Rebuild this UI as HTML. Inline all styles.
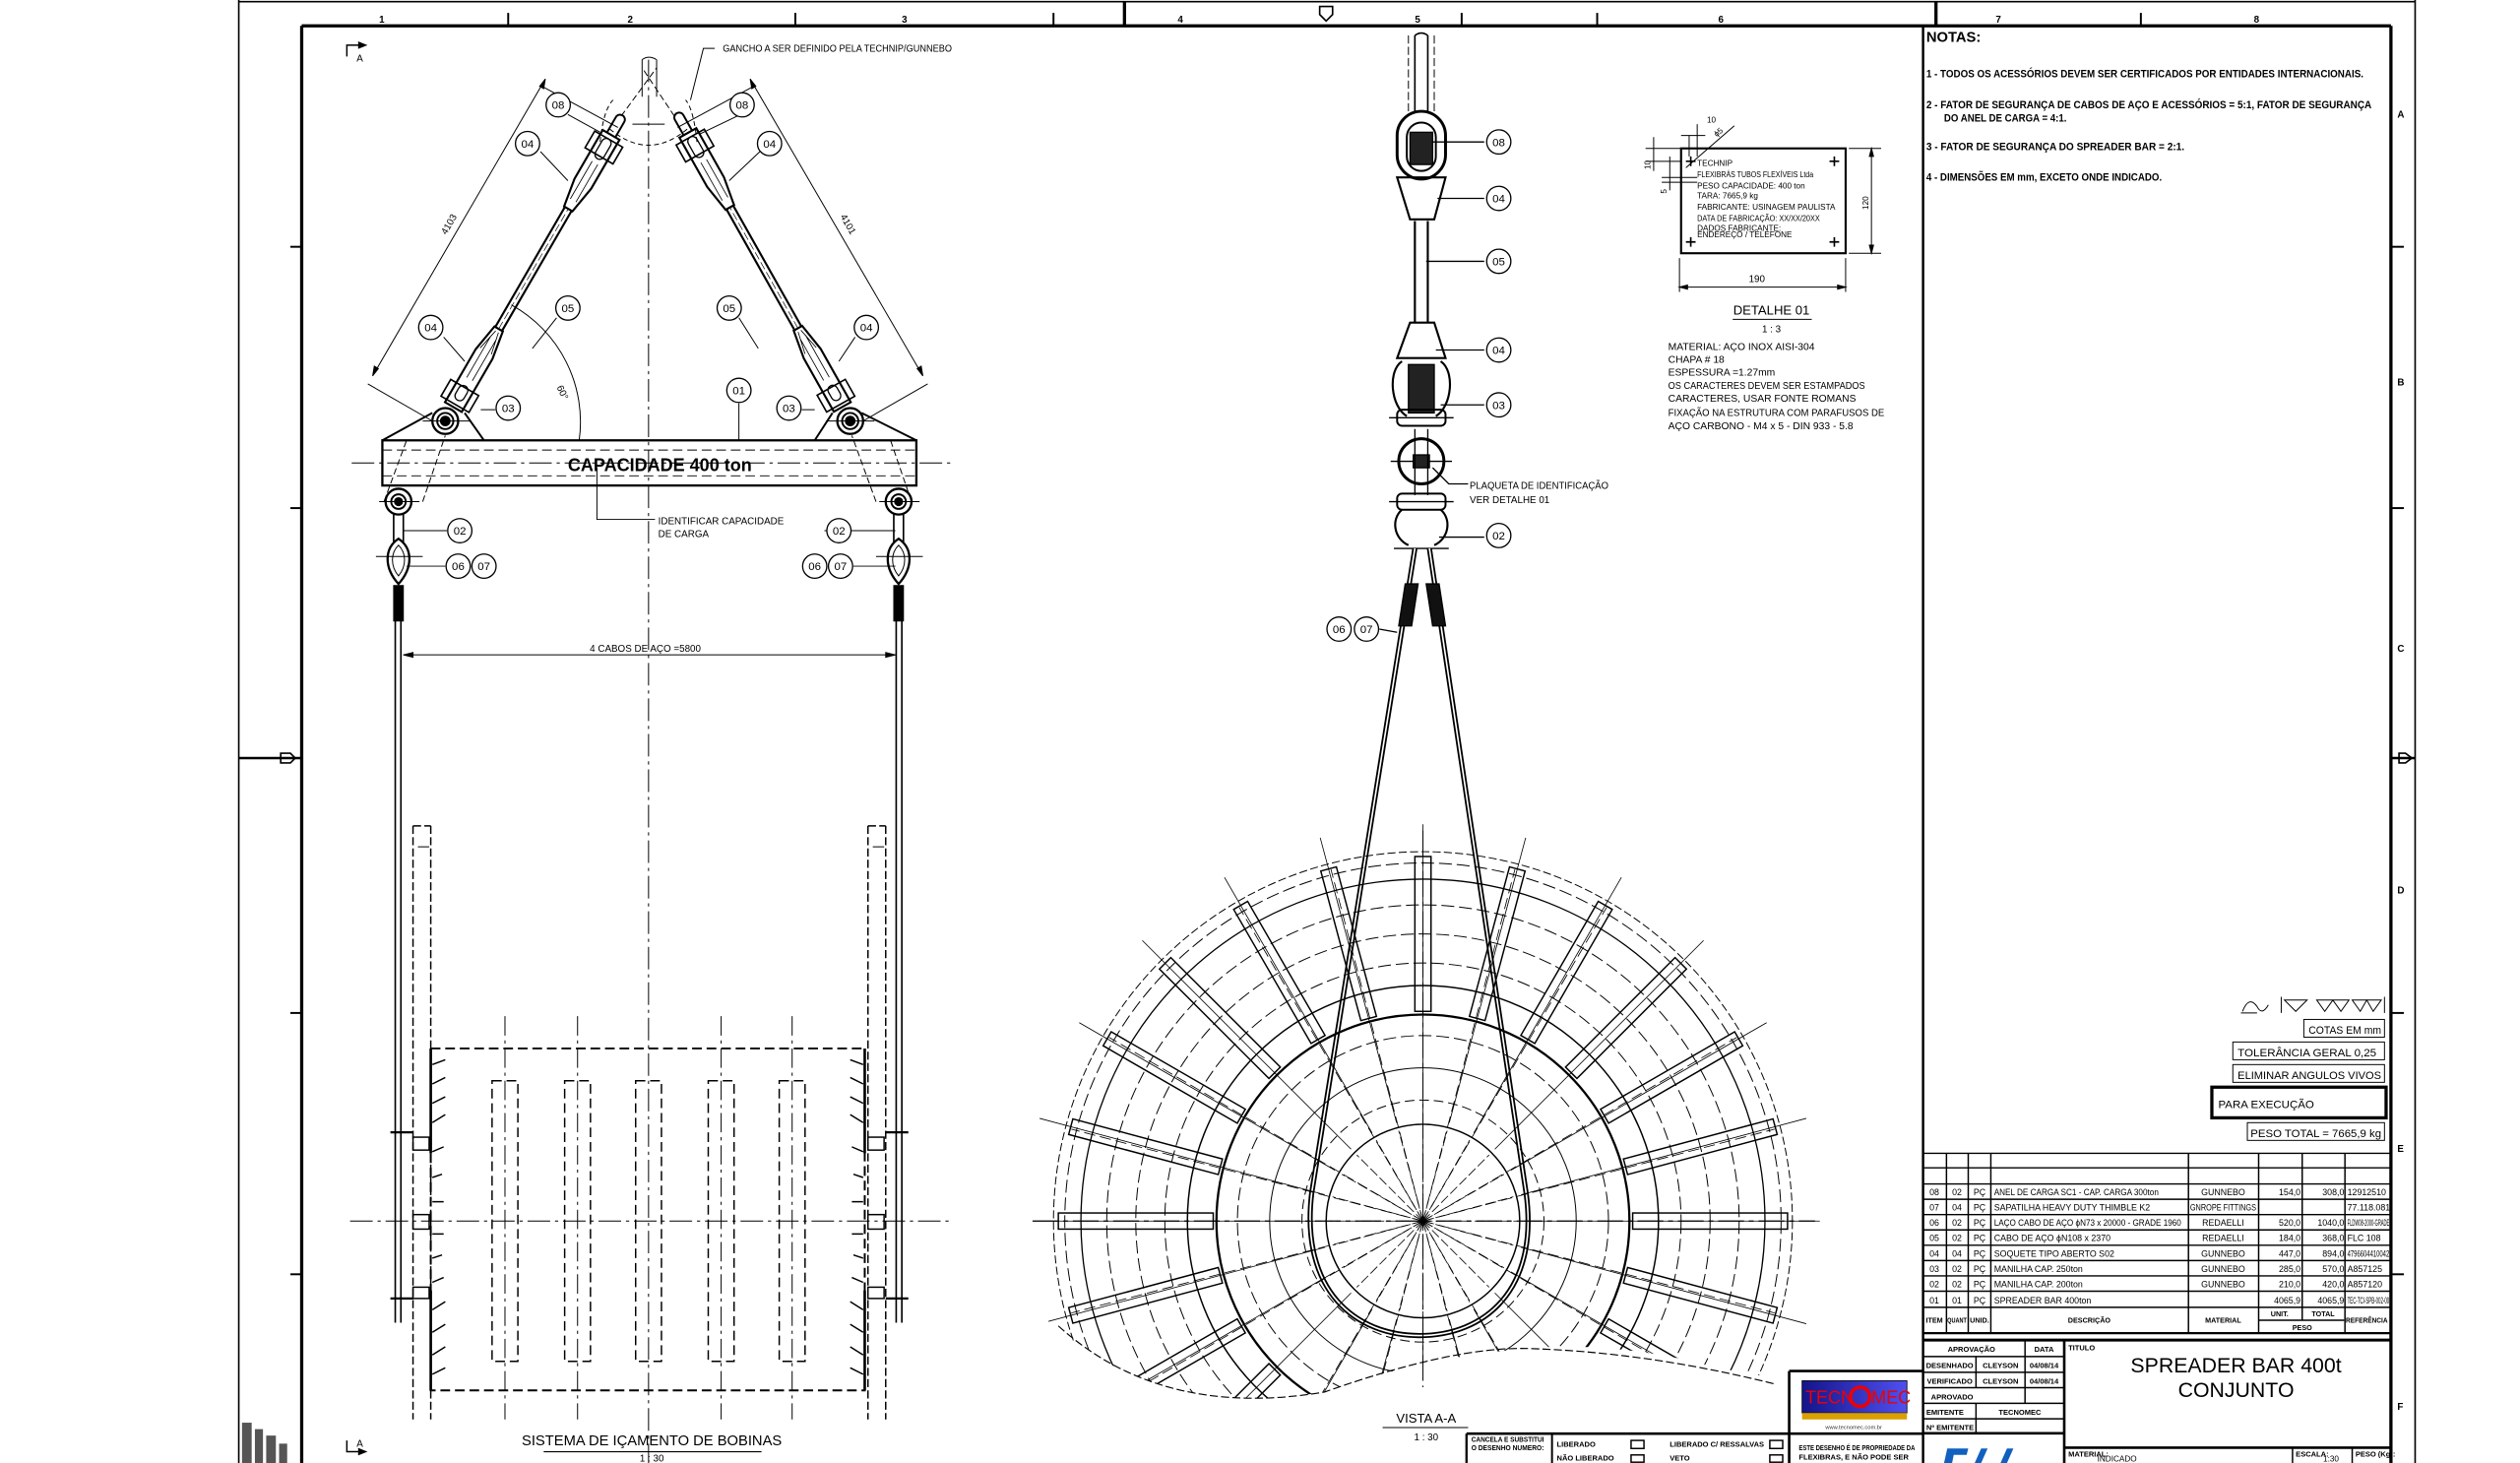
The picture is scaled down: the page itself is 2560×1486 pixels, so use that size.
<!DOCTYPE html>
<html><head><meta charset="utf-8"><style>
html,body{margin:0;padding:0;background:#fff;width:2560px;height:1486px;overflow:hidden;}
svg{display:block;}
text{font-family:"Liberation Sans Narrow","Liberation Sans",sans-serif;fill:#000;}
.b{font-weight:bold;}
</style></head><body>
<svg width="2560" height="1486" viewBox="0 0 1562 907" preserveAspectRatio="none" xmlns="http://www.w3.org/2000/svg" overflow="hidden">
<defs>
<clipPath id="reelclip"><path d="M600,480 L1160,480 L1160,858 Q1100,858 1040,842 Q990,832 946,836 Q880,842 821,863 Q720,880 650,820 Z"/></clipPath>
</defs>
<rect width="1562" height="907" fill="#fff"/>
<g stroke="#000" fill="none">
<line x1="148" y1="0" x2="148" y2="907" stroke-width="1"/>
<line x1="1497" y1="0" x2="1497" y2="907" stroke-width="1"/>
<line x1="148" y1="1" x2="1497" y2="1" stroke-width="1"/>
<line x1="187" y1="16" x2="1482" y2="16" stroke-width="2"/>
<line x1="187" y1="16" x2="187" y2="907" stroke-width="2"/>
<line x1="1482" y1="16" x2="1482" y2="907" stroke-width="2"/>
<g stroke-width="1.2">
<line x1="315" y1="8" x2="315" y2="16"/><line x1="493" y1="8" x2="493" y2="16"/><line x1="653" y1="8" x2="653" y2="16"/>
<line x1="697" y1="1" x2="697" y2="16" stroke-width="2"/><line x1="906" y1="8" x2="906" y2="16"/><line x1="990" y1="8" x2="990" y2="16"/>
<line x1="1200" y1="1" x2="1200" y2="16" stroke-width="2"/><line x1="1327" y1="8" x2="1327" y2="16"/>
<line x1="180" y1="153" x2="187" y2="153"/><line x1="180" y1="315" x2="187" y2="315"/><line x1="180" y1="628" x2="187" y2="628"/><line x1="180" y1="790" x2="187" y2="790"/>
<line x1="148" y1="470" x2="187" y2="470" stroke-width="1.5"/>
<line x1="1482" y1="153" x2="1490" y2="153"/><line x1="1482" y1="315" x2="1490" y2="315"/><line x1="1482" y1="628" x2="1490" y2="628"/><line x1="1482" y1="790" x2="1490" y2="790"/>
<line x1="1482" y1="470" x2="1497" y2="470" stroke-width="1.5"/>
</g>
<path d="M818,4 L826,4 L826,9 L822,13 L818,9 Z" stroke-width="1"/>
<path d="M174,467 L180,467 L183,470 L180,473 L174,473 Z" stroke-width="1"/>
<path d="M1487,467 L1491,467 L1495,470 L1491,473 L1487,473 Z" stroke-width="1"/>
</g>
<g font-size="6" class="b">
<text x="235" y="14">1</text><text x="389" y="14">2</text><text x="559" y="14">3</text><text x="730" y="14">4</text><text x="877" y="14">5</text><text x="1065" y="14">6</text><text x="1237" y="14">7</text><text x="1397" y="14">8</text>
<text x="1486" y="73">A</text><text x="1486" y="239">B</text><text x="1486" y="404">C</text><text x="1486" y="554">D</text><text x="1486" y="714">E</text><text x="1486" y="874">F</text>
</g>
<g fill="#555"><rect x="150" y="882" width="6" height="25"/><rect x="158" y="886" width="5" height="21"/><rect x="165" y="890" width="6" height="17"/><rect x="173" y="895" width="5" height="12"/></g>

<g stroke="#000" fill="none" stroke-width="0.6">
<line x1="402" y1="37" x2="402" y2="907" stroke-dasharray="14,3,2,3"/>
<line x1="218" y1="287" x2="590" y2="287" stroke-dasharray="14,3,2,3"/>
<line x1="217" y1="757" x2="590" y2="757" stroke-dasharray="14,3,2,3"/>
<path d="M398,37 L398,60 M407,37 L407,60 M398,37 Q402,34 407,37" />
<path d="M385,72 L407,42 M418,72 L398,42" stroke-dasharray="4,2"/>
<path d="M372,88 Q374,68 380,62 M432,88 Q430,68 425,62" stroke-dasharray="3,2"/>
<path d="M378,80 Q402,100 426,80" stroke-dasharray="3,2"/>
<line x1="392" y1="77" x2="412" y2="77"/>
<rect x="237" y="273" width="331" height="28" stroke-width="1.4"/>
<line x1="237" y1="279" x2="568" y2="279" stroke-dasharray="6,3"/>
<line x1="237" y1="295" x2="568" y2="295" stroke-dasharray="6,3"/>
<path d="M237,273 L268,256 M288,256 L300,273 M568,273 L534,256 M516,256 L505,273" stroke-width="1.2"/>
<circle cx="276" cy="261" r="8" stroke-width="1.4"/><circle cx="276" cy="261" r="5" stroke-width="1.2"/><circle cx="276" cy="261" r="3" fill="#000"/>
<circle cx="527" cy="261" r="8" stroke-width="1.4"/><circle cx="527" cy="261" r="5" stroke-width="1.2"/><circle cx="527" cy="261" r="3" fill="#000"/>
<line x1="262" y1="261" x2="292" y2="261"/><line x1="512" y1="261" x2="542" y2="261"/>
<circle cx="247" cy="311" r="8" stroke-width="1.4"/><circle cx="247" cy="311" r="4.5" stroke-width="1.2"/><circle cx="247" cy="311" r="2.5" fill="#000"/>
<circle cx="557" cy="311" r="8" stroke-width="1.4"/><circle cx="557" cy="311" r="4.5" stroke-width="1.2"/><circle cx="557" cy="311" r="2.5" fill="#000"/>
<line x1="235" y1="311" x2="260" y2="311"/><line x1="545" y1="311" x2="570" y2="311"/>
<path d="M238,311 L252,273 M262,311 L276,270 M565,311 L552,273 M543,311 L528,270" stroke-dasharray="4,2"/>
<path d="M244,319 L244,336 M250,319 L250,336 M554,319 L554,336 M560,319 L560,336" stroke-width="1"/>
<path d="M247,334 C238,340 238,352 247,362 C256,352 256,340 247,334 Z" stroke-width="1.4"/>
<path d="M247,338 C242,343 242,351 247,357 C252,351 252,343 247,338 Z"/>
<path d="M557,334 C548,340 548,352 557,362 C566,352 566,340 557,334 Z" stroke-width="1.4"/>
<path d="M557,338 C552,343 552,351 557,357 C562,351 562,343 557,338 Z"/>
<line x1="233" y1="345" x2="262" y2="345"/><line x1="543" y1="345" x2="572" y2="345"/>
<rect x="244" y="363" width="6" height="22" fill="#000"/>
<rect x="554" y="363" width="6" height="22" fill="#000"/>
<path d="M245,385 L245,820 M248.5,385 L248.5,820" stroke-width="1"/>
<path d="M555.5,385 L555.5,820 M559,385 L559,820" stroke-width="1"/>
<line x1="250" y1="406" x2="555" y2="406"/>
<path d="M250,406 l6,-1.5 l0,3 Z M555,406 l-6,-1.5 l0,3 Z" fill="#000"/>
<path d="M370,290 L370,322 L406,322"/>
<path d="M256,512 L256,880 M267,512 L267,880 M256,512 L267,512" stroke-dasharray="5,2" stroke-width="0.9"/>
<path d="M538,512 L538,880 M549,512 L549,880 M538,512 L549,512" stroke-dasharray="5,2" stroke-width="0.9"/>
<path d="M259,525 L266,525 M541,525 L548,525" />
<rect x="267" y="650" width="269" height="212" stroke-dasharray="6,3" stroke-width="1.2"/>
<line x1="267" y1="650" x2="267" y2="715" stroke-width="1.6"/><line x1="267" y1="800" x2="267" y2="862" stroke-width="1.6"/>
<line x1="536" y1="650" x2="536" y2="715" stroke-width="1.6"/><line x1="536" y1="800" x2="536" y2="862" stroke-width="1.6"/>
<g stroke-dasharray="6,3" stroke-width="0.9">
<rect x="305" y="670" width="16" height="174"/><rect x="350" y="670" width="16" height="174"/><rect x="394" y="670" width="16" height="174"/><rect x="439" y="670" width="16" height="174"/><rect x="483" y="670" width="16" height="174"/>
</g>
<g stroke-dasharray="12,3,2,3">
<line x1="313" y1="630" x2="313" y2="880"/><line x1="358" y1="630" x2="358" y2="880"/><line x1="447" y1="630" x2="447" y2="880"/><line x1="491" y1="630" x2="491" y2="880"/>
</g>
<g stroke-width="0.9">
<rect x="256" y="705" width="10" height="8"/><rect x="256" y="753" width="10" height="9"/><rect x="256" y="798" width="10" height="7"/>
<rect x="538" y="705" width="10" height="8"/><rect x="538" y="753" width="10" height="9"/><rect x="538" y="798" width="10" height="7"/>
<line x1="242" y1="702" x2="256" y2="702" stroke-width="1.4"/><line x1="242" y1="805" x2="256" y2="805" stroke-width="1.4"/>
<line x1="549" y1="702" x2="563" y2="702" stroke-width="1.4"/><line x1="549" y1="805" x2="563" y2="805" stroke-width="1.4"/>
<path d="M268,660 l8,-3 M268,672 l8,-4 M268,684 l8,-4 M268,696 l8,-5 M268,714 l7,-3 M268,730 l6,-2 M268,745 l7,0 M268,765 l7,0 M268,780 l6,-2 M268,795 l7,-3 M268,812 l8,-5 M268,826 l8,-5 M268,840 l8,-5 M268,852 l8,-4"/>
<path d="M535,660 l-8,-3 M535,672 l-8,-4 M535,684 l-8,-4 M535,696 l-8,-5 M535,714 l-7,-3 M535,730 l-6,-2 M535,745 l-7,0 M535,765 l-7,0 M535,780 l-6,-2 M535,795 l-7,-3 M535,812 l-8,-5 M535,826 l-8,-5 M535,840 l-8,-5 M535,852 l-8,-4"/>
</g>
<path d="M215,35 L215,28 L226,28" stroke-width="0.9"/><path d="M222,26 l5,2 l-5,2" fill="#000"/>
<path d="M215,893 L215,900 L226,900" stroke-width="0.9"/><path d="M222,898 l5,2 l-5,2" fill="#000"/>
</g>
<text x="221" y="38" font-size="6">A</text>
<text x="221" y="897" font-size="6">A</text>

<g transform="translate(276,261) rotate(-59.9)" stroke="#000" fill="none">
<path d="M10,-6 L48,-6 L66,-3 L66,3 L48,6 L10,6 Z" stroke-width="1.3"/>
<path d="M12,-10 L24,-10 L24,10 L12,10 Z" stroke-width="1"/>
<path d="M30,-2 L60,-2 M30,2 L60,2 M50,-4 L64,-1 M50,4 L64,1" stroke-width="0.5"/>
<rect x="15" y="-3" width="10" height="6" rx="3" stroke-width="0.8"/>
<path d="M66,-2.4 L152,-2.4 M66,2.4 L152,2.4" stroke-width="1.3"/>
<line x1="66" y1="0" x2="152" y2="0" stroke-width="0.4" stroke-dasharray="5,2"/>
<path d="M152,-3 L170,-6 L205,-6 L205,6 L170,6 L152,3 Z" stroke-width="1.3"/>
<path d="M190,-10 L202,-10 L202,10 L190,10 Z" stroke-width="1"/>
<path d="M158,-2 L185,-2 M158,2 L185,2" stroke-width="0.5"/>
<rect x="188" y="-3" width="14" height="6" rx="3" stroke-width="0.8"/>
<path d="M205,-3 L216,-3 A3,3 0 0 1 216,3 L205,3" stroke-width="1.2"/>
</g>
<g transform="translate(527,261) rotate(-119.4)" stroke="#000" fill="none">
<path d="M10,-6 L48,-6 L66,-3 L66,3 L48,6 L10,6 Z" stroke-width="1.3"/>
<path d="M12,-10 L24,-10 L24,10 L12,10 Z" stroke-width="1"/>
<path d="M30,-2 L60,-2 M30,2 L60,2 M50,-4 L64,-1 M50,4 L64,1" stroke-width="0.5"/>
<rect x="15" y="-3" width="10" height="6" rx="3" stroke-width="0.8"/>
<path d="M66,-2.4 L152,-2.4 M66,2.4 L152,2.4" stroke-width="1.3"/>
<line x1="66" y1="0" x2="152" y2="0" stroke-width="0.4" stroke-dasharray="5,2"/>
<path d="M152,-3 L170,-6 L205,-6 L205,6 L170,6 L152,3 Z" stroke-width="1.3"/>
<path d="M190,-10 L202,-10 L202,10 L190,10 Z" stroke-width="1"/>
<path d="M158,-2 L185,-2 M158,2 L185,2" stroke-width="0.5"/>
<rect x="188" y="-3" width="14" height="6" rx="3" stroke-width="0.8"/>
<path d="M205,-3 L216,-3 A3,3 0 0 1 216,3 L205,3" stroke-width="1.2"/>
</g>
<g stroke="#000" fill="none" stroke-width="0.6">
<line x1="231" y1="233" x2="338" y2="49"/><line x1="572" y1="233" x2="465" y2="49"/>
<line x1="228" y1="238" x2="268" y2="261"/><line x1="335" y1="53" x2="383" y2="79"/>
<line x1="575" y1="238" x2="535" y2="261"/><line x1="468" y1="53" x2="420" y2="79"/>
<path d="M231,233 l1,-6 l2.5,1.5 Z M338,49 l-1,6 l-2.5,-1.5 Z M572,233 l-1,-6 l-2.5,1.5 Z M465,49 l1,6 l2.5,-1.5 Z" fill="#000"/>
<path d="M359,273 A83,83 0 0 0 317,189"/>
<path d="M443,30 L436,30 L428,62"/>
<path d="M352,71 L372,82 M335,94 L352,112 M345,197 L330,216 M275,209 L288,224 M307,254 L298,254 M458,250 L458,273 M497,254 L505,254 M459,71 L434,83 M471,94 L452,112 M458,197 L470,216 M530,209 L520,224 M277,329 L250,329 M511,329 L555,329 M276,351 L252,351 M529,351 L555,351"/>
</g>
<g stroke="#000" fill="#fff" stroke-width="0.8">
<circle cx="346" cy="65" r="7.5"/><circle cx="460" cy="65" r="7.5"/>
<circle cx="327" cy="89" r="7.5"/><circle cx="477" cy="89" r="7.5"/>
<circle cx="352" cy="191" r="7.5"/><circle cx="452" cy="191" r="7.5"/>
<circle cx="267" cy="203" r="7.5"/><circle cx="537" cy="203" r="7.5"/>
<circle cx="315" cy="253" r="7.5"/><circle cx="489" cy="253" r="7.5"/>
<circle cx="458" cy="242" r="7.5"/>
<circle cx="285" cy="329" r="7.5"/><circle cx="520" cy="329" r="7.5"/>
<circle cx="284" cy="351" r="7.5"/><circle cx="300" cy="351" r="7.5"/>
<circle cx="505" cy="351" r="7.5"/><circle cx="521" cy="351" r="7.5"/>
</g>
<g font-size="7" text-anchor="middle">
<text x="346" y="67.5">08</text><text x="460" y="67.5">08</text>
<text x="327" y="91.5">04</text><text x="477" y="91.5">04</text>
<text x="352" y="193.5">05</text><text x="452" y="193.5">05</text>
<text x="267" y="205.5">04</text><text x="537" y="205.5">04</text>
<text x="315" y="255.5">03</text><text x="489" y="255.5">03</text>
<text x="458" y="244.5">01</text>
<text x="285" y="331.5">02</text><text x="520" y="331.5">02</text>
<text x="284" y="353.5">06</text><text x="300" y="353.5">07</text>
<text x="505" y="353.5">06</text><text x="521" y="353.5">07</text>
</g>
<text x="448" y="32" font-size="6" textLength="142" lengthAdjust="spacingAndGlyphs">GANCHO A SER DEFINIDO PELA TECHNIP/GUNNEBO</text>
<text x="409" y="292" font-size="11" class="b" text-anchor="middle" font-family="Liberation Sans,sans-serif">CAPACIDADE 400 ton</text>
<text x="408" y="325" font-size="6">IDENTIFICAR CAPACIDADE</text>
<text x="408" y="333" font-size="6">DE CARGA</text>
<text x="400" y="404" font-size="6" text-anchor="middle">4  CABOS DE AÇO =5800</text>
<text transform="translate(280,140) rotate(-60)" font-size="6" text-anchor="middle">4103</text>
<text transform="translate(524,140) rotate(60)" font-size="6" text-anchor="middle">4101</text>
<text transform="translate(345,240) rotate(65)" font-size="6">60°</text>
<text x="404" y="896" font-size="9" text-anchor="middle">SISTEMA DE IÇAMENTO DE BOBINAS</text>
<line x1="337" y1="900" x2="472" y2="900" stroke="#000" stroke-width="0.7"/>
<text x="404" y="906" font-size="6" text-anchor="middle">1 : 30</text>

<g stroke="#000" fill="none" stroke-width="0.8">
<path d="M877,22 L877,69 M885,22 L885,69 M877,22 Q881,19 885,22" stroke-width="1"/>
<path d="M873,22 L873,69 M889,22 L889,69" stroke-dasharray="5,2" stroke-width="0.6"/>
<rect x="866" y="69" width="30" height="42" rx="15" stroke-width="1.8"/>
<rect x="872" y="76" width="18" height="30" rx="9" stroke-width="1.2"/>
<rect x="874" y="82" width="14" height="20" fill="#222"/>
<path d="M866,110 L896,110 L889,136 L874,136 Z" stroke-width="1.3"/>
<path d="M877,137 L877,200 M885,137 L885,200" stroke-width="1.3"/>
<path d="M874,200 L889,200 L896,222 L866,222 Z" stroke-width="1.3"/>
<path d="M869,224 C860,230 862,252 872,258 M893,224 C902,230 900,252 890,258" stroke-width="1.3"/>
<rect x="873" y="226" width="16" height="30" fill="#222"/>
<line x1="861" y1="259" x2="901" y2="259"/>
<rect x="866" y="254" width="30" height="10" rx="3" stroke-width="1.2"/>
<circle cx="881" cy="286" r="14" stroke-width="1.8"/>
<line x1="862" y1="286" x2="900" y2="286"/>
<rect x="876" y="282" width="10" height="8" fill="#222"/>
<path d="M877,266 L877,307 M885,266 L885,307"/>
<rect x="866" y="306" width="30" height="10" rx="3" stroke-width="1.2"/>
<line x1="861" y1="311" x2="901" y2="311"/>
<path d="M869,316 C862,322 864,334 873,338 M893,316 C900,322 898,334 889,338" stroke-width="1.3"/>
<line x1="864" y1="340" x2="898" y2="340"/>
<path d="M877,340 L813,740 C806,800 840,828 880,828 C920,828 954,800 946,740 L886,340" stroke-width="3.2"/>
<path d="M877,340 L813,740 C806,800 840,828 880,828 C920,828 954,800 946,740 L886,340" stroke="#fff" stroke-width="1"/>
<path d="M871,362 L879,362 L875,388 L867,388 Z M884,362 L892,362 L896,388 L888,388 Z" fill="#111"/>
<path d="M888,88 L920,88 M891,123 L920,123 M884,162 L920,162 M890,217 L920,217 M893,251 L920,251 M892,333 L920,333 M888,290 L898,300 L910,300 M855,390 L866,392"/>
</g>
<g stroke="#000" fill="#fff" stroke-width="0.8">
<circle cx="929" cy="88" r="7.5"/><circle cx="929" cy="123" r="7.5"/><circle cx="929" cy="162" r="7.5"/><circle cx="929" cy="217" r="7.5"/><circle cx="929" cy="251" r="7.5"/><circle cx="929" cy="332" r="7.5"/>
<circle cx="830" cy="390" r="7.5"/><circle cx="847" cy="390" r="7.5"/>
</g>
<g font-size="7" text-anchor="middle">
<text x="929" y="90.5">08</text><text x="929" y="125.5">04</text><text x="929" y="164.5">05</text><text x="929" y="219.5">04</text><text x="929" y="253.5">03</text><text x="929" y="334.5">02</text>
<text x="830" y="392.5">06</text><text x="847" y="392.5">07</text>
</g>
<text x="911" y="303" font-size="6" textLength="86" lengthAdjust="spacingAndGlyphs">PLAQUETA DE IDENTIFICAÇÃO</text>
<text x="911" y="312" font-size="6">VER DETALHE 01</text>

<g clip-path="url(#reelclip)" stroke="#000" fill="none" stroke-width="0.6">
<circle cx="882" cy="757" r="229" stroke-dasharray="5,2"/>
<circle cx="882" cy="757" r="222" stroke-dasharray="8,3"/>
<circle cx="882" cy="757" r="212" stroke-width="0.8"/>
<circle cx="882" cy="757" r="196" stroke-dasharray="8,3"/>
<circle cx="882" cy="757" r="178" stroke-dasharray="8,3"/>
<circle cx="882" cy="757" r="160" stroke-dasharray="8,3"/>
<circle cx="882" cy="757" r="146" stroke-width="0.9"/>
<circle cx="882" cy="757" r="128" stroke-width="1.4"/>
<circle cx="882" cy="757" r="115" stroke-dasharray="8,3"/>
<circle cx="882" cy="757" r="95"/>
<circle cx="882" cy="757" r="75" stroke-dasharray="6,3"/>
<circle cx="882" cy="757" r="60" stroke-width="0.9"/>
<g id="spk">
<rect x="1012" y="752" width="96" height="10" stroke-width="0.9"/>
<line x1="945" y1="757" x2="1128" y2="757" stroke-width="0.5"/>
<line x1="882" y1="757" x2="940" y2="757" stroke-dasharray="6,2" stroke-width="0.5"/>
</g>
<use href="#spk" transform="rotate(15 882 757)"/><use href="#spk" transform="rotate(30 882 757)"/><use href="#spk" transform="rotate(45 882 757)"/><use href="#spk" transform="rotate(60 882 757)"/><use href="#spk" transform="rotate(75 882 757)"/><use href="#spk" transform="rotate(90 882 757)"/><use href="#spk" transform="rotate(105 882 757)"/><use href="#spk" transform="rotate(120 882 757)"/><use href="#spk" transform="rotate(135 882 757)"/><use href="#spk" transform="rotate(150 882 757)"/><use href="#spk" transform="rotate(165 882 757)"/><use href="#spk" transform="rotate(180 882 757)"/><use href="#spk" transform="rotate(195 882 757)"/><use href="#spk" transform="rotate(210 882 757)"/><use href="#spk" transform="rotate(225 882 757)"/><use href="#spk" transform="rotate(240 882 757)"/><use href="#spk" transform="rotate(255 882 757)"/><use href="#spk" transform="rotate(270 882 757)"/><use href="#spk" transform="rotate(285 882 757)"/><use href="#spk" transform="rotate(300 882 757)"/><use href="#spk" transform="rotate(315 882 757)"/><use href="#spk" transform="rotate(330 882 757)"/><use href="#spk" transform="rotate(345 882 757)"/>
<g id="spk2" stroke-dasharray="7,3" stroke-width="0.5"><line x1="882" y1="757" x2="1100" y2="700"/><line x1="882" y1="757" x2="1100" y2="814"/></g>
<use href="#spk2" transform="rotate(45 882 757)"/><use href="#spk2" transform="rotate(90 882 757)"/><use href="#spk2" transform="rotate(135 882 757)"/><use href="#spk2" transform="rotate(180 882 757)"/><use href="#spk2" transform="rotate(225 882 757)"/><use href="#spk2" transform="rotate(270 882 757)"/><use href="#spk2" transform="rotate(315 882 757)"/>
</g>
<path d="M656,822 Q720,880 821,863 Q900,835 946,836 Q1020,838 1100,858" stroke="#000" fill="none" stroke-width="0.7" stroke-dasharray="5,2"/>
<line x1="640" y1="757" x2="1125" y2="757" stroke="#000" stroke-width="0.8" stroke-dasharray="16,3,3,3"/>
<line x1="882" y1="515" x2="882" y2="860" stroke="#000" stroke-width="0.6" stroke-dasharray="16,3,3,3"/>
<text x="884" y="882" font-size="8" text-anchor="middle">VISTA A-A</text>
<line x1="857" y1="885" x2="910" y2="885" stroke="#000" stroke-width="0.6"/>
<text x="884" y="893" font-size="6" text-anchor="middle">1 : 30</text>

<g stroke="#000" fill="none" stroke-width="0.6">
<rect x="1042" y="92" width="102" height="65" stroke-width="1.3"/>
<line x1="1041" y1="178" x2="1144" y2="178"/><path d="M1041,178 l5,-1.3 l0,2.6 Z M1144,178 l-5,-1.3 l0,2.6 Z" fill="#000"/>
<line x1="1041" y1="160" x2="1041" y2="181"/><line x1="1144" y1="160" x2="1144" y2="181"/>
<line x1="1160" y1="92" x2="1160" y2="157"/><path d="M1160,92 l-1.3,5 l2.6,0 Z M1160,157 l-1.3,-5 l2.6,0 Z" fill="#000"/>
<line x1="1146" y1="92" x2="1166" y2="92"/><line x1="1146" y1="157" x2="1166" y2="157"/>
<line x1="1047" y1="84" x2="1047" y2="97"/><line x1="1052" y1="77" x2="1052" y2="97"/><line x1="1042" y1="84" x2="1057" y2="84"/>
<line x1="1045" y1="104" x2="1075" y2="78"/>
<line x1="1020" y1="92" x2="1042" y2="92"/><line x1="1020" y1="100" x2="1042" y2="100"/><line x1="1030" y1="110" x2="1052" y2="110"/><line x1="1030" y1="113" x2="1052" y2="113"/>
<line x1="1025" y1="85" x2="1025" y2="106"/><line x1="1035" y1="97" x2="1035" y2="118"/>
<path d="M1048,97 l0,6 M1045,100 l6,0 M1137,97 l0,6 M1134,100 l6,0 M1048,147 l0,6 M1045,150 l6,0 M1137,147 l0,6 M1134,150 l6,0" stroke-width="1"/>
</g>
<g font-size="5">
<text x="1052" y="103">TECHNIP</text>
<text x="1052" y="110" textLength="72" lengthAdjust="spacingAndGlyphs">FLEXIBRÁS TUBOS FLEXÍVEIS Ltda</text>
<text x="1052" y="117">PESO CAPACIDADE: 400 ton</text>
<text x="1052" y="123">TARA: 7665,9 kg</text>
<text x="1052" y="130">FABRICANTE: USINAGEM PAULISTA</text>
<text x="1052" y="137" textLength="76" lengthAdjust="spacingAndGlyphs">DATA DE FABRICAÇÃO: XX/XX/20XX</text>
<text x="1052" y="143">DADOS FABRICANTE:</text>
<text x="1052" y="147">ENDEREÇO / TELEFONE</text>
<text x="1058" y="76">10</text><text transform="translate(1064,85) rotate(-40)">ϕ5</text>
<text transform="translate(1023,105) rotate(-90)">10</text><text transform="translate(1033,120) rotate(-90)">5</text>
<text transform="translate(1158,130) rotate(-90)">120</text>
<text x="1089" y="175" font-size="6" text-anchor="middle">190</text>
</g>
<text x="1098" y="195" font-size="8" text-anchor="middle">DETALHE 01</text>
<line x1="1074" y1="198" x2="1123" y2="198" stroke="#000" stroke-width="0.6"/>
<text x="1098" y="206" font-size="6" text-anchor="middle">1 : 3</text>
<g font-size="6.3">
<text x="1034" y="217">MATERIAL: AÇO INOX AISI-304</text>
<text x="1034" y="225">CHAPA # 18</text>
<text x="1034" y="233">ESPESSURA =1.27mm</text>
<text x="1034" y="241" textLength="122" lengthAdjust="spacingAndGlyphs">OS CARACTERES DEVEM SER ESTAMPADOS</text>
<text x="1034" y="249">CARACTERES, USAR FONTE ROMANS</text>
<text x="1034" y="258" textLength="134" lengthAdjust="spacingAndGlyphs">FIXAÇÃO NA ESTRUTURA COM PARAFUSOS DE</text>
<text x="1034" y="266">AÇO CARBONO - M4 x 5 - DIN 933 - 5.8</text>
</g>

<line x1="1192" y1="16" x2="1192" y2="907" stroke="#000" stroke-width="1.5"/>
<text x="1194" y="26" font-size="9" class="b">NOTAS:</text>
<g font-size="6.6" class="b">
<text x="1194" y="48" textLength="271" lengthAdjust="spacingAndGlyphs">1 - TODOS OS ACESSÓRIOS DEVEM SER CERTIFICADOS POR ENTIDADES INTERNACIONAIS.</text>
<text x="1194" y="67" textLength="276" lengthAdjust="spacingAndGlyphs">2 - FATOR DE SEGURANÇA DE CABOS DE AÇO E ACESSÓRIOS = 5:1, FATOR DE SEGURANÇA</text>
<text x="1205" y="75.5" textLength="76" lengthAdjust="spacingAndGlyphs">DO ANEL DE CARGA = 4:1.</text>
<text x="1194" y="93" textLength="160" lengthAdjust="spacingAndGlyphs">3 - FATOR DE SEGURANÇA DO SPREADER BAR = 2:1.</text>
<text x="1194" y="112" textLength="146" lengthAdjust="spacingAndGlyphs">4 - DIMENSÕES EM mm, EXCETO ONDE INDICADO.</text>
</g>

<g stroke="#000" fill="none" stroke-width="0.6">
<path d="M1389,628 L1399,628 M1390,627 Q1394,617 1399,624 Q1402,630 1406,623"/>
<path d="M1414,618 L1414,628 M1478,618 L1478,628 M1416,620 L1430,620 L1423,627 Z M1436,620 L1456,620 L1451,627 L1446,620 L1441,627 Z M1458,620 L1476,620 L1471,627 L1467,620 L1463,627 Z"/>
<rect x="1428" y="632" width="50" height="11"/>
<rect x="1384" y="646" width="94" height="11"/>
<rect x="1384" y="660" width="94" height="11"/>
<rect x="1371" y="674" width="108" height="19" stroke-width="2"/>
<rect x="1393" y="696" width="85" height="11"/>
</g>
<g font-size="7">
<text x="1431" y="641" textLength="45" lengthAdjust="spacingAndGlyphs">COTAS EM mm</text>
<text x="1387" y="655" textLength="86" lengthAdjust="spacingAndGlyphs">TOLERÂNCIA GERAL   0,25</text>
<text x="1387" y="669" textLength="89" lengthAdjust="spacingAndGlyphs">ELIMINAR ANGULOS VIVOS</text>
<text x="1375" y="687">PARA EXECUÇÃO</text>
<text x="1395" y="705" textLength="81" lengthAdjust="spacingAndGlyphs">PESO TOTAL = 7665,9 kg</text>
</g>

<g stroke="#000" fill="none" stroke-width="0.9">
<line x1="1192" y1="715" x2="1482" y2="715"/>
<line x1="1192" y1="724" x2="1482" y2="724"/>
<line x1="1192" y1="734" x2="1482" y2="734"/>
<line x1="1192" y1="743.5" x2="1482" y2="743.5"/>
<line x1="1192" y1="753" x2="1482" y2="753"/>
<line x1="1192" y1="762.5" x2="1482" y2="762.5"/>
<line x1="1192" y1="772" x2="1482" y2="772"/>
<line x1="1192" y1="781.5" x2="1482" y2="781.5"/>
<line x1="1192" y1="791" x2="1482" y2="791"/>
<line x1="1192" y1="800.5" x2="1482" y2="800.5"/>
<line x1="1192" y1="810.5" x2="1482" y2="810.5"/>
<line x1="1400" y1="818.5" x2="1453" y2="818.5"/>
<line x1="1192" y1="826.5" x2="1482" y2="826.5" stroke-width="1.4"/>
<line x1="1206.5" y1="715" x2="1206.5" y2="826.5"/><line x1="1220" y1="715" x2="1220" y2="826.5"/><line x1="1234" y1="715" x2="1234" y2="826.5"/>
<line x1="1356.5" y1="715" x2="1356.5" y2="826.5"/><line x1="1400" y1="715" x2="1400" y2="826.5"/><line x1="1427" y1="715" x2="1427" y2="818.5"/><line x1="1453.5" y1="715" x2="1453.5" y2="826.5"/>
</g>
<g font-size="5.4">
<g text-anchor="middle">
<text x="1199" y="741">08</text><text x="1213" y="741">02</text><text x="1227" y="741">PÇ</text>
<text x="1199" y="750.5">07</text><text x="1213" y="750.5">04</text><text x="1227" y="750.5">PÇ</text>
<text x="1199" y="760">06</text><text x="1213" y="760">02</text><text x="1227" y="760">PÇ</text>
<text x="1199" y="769.5">05</text><text x="1213" y="769.5">02</text><text x="1227" y="769.5">PÇ</text>
<text x="1199" y="779">04</text><text x="1213" y="779">04</text><text x="1227" y="779">PÇ</text>
<text x="1199" y="788.5">03</text><text x="1213" y="788.5">02</text><text x="1227" y="788.5">PÇ</text>
<text x="1199" y="798">02</text><text x="1213" y="798">02</text><text x="1227" y="798">PÇ</text>
<text x="1199" y="808">01</text><text x="1213" y="808">01</text><text x="1227" y="808">PÇ</text>
<text x="1378" y="741">GUNNEBO</text><text x="1378" y="750.5" textLength="41" lengthAdjust="spacingAndGlyphs">GNROPE FITTINGS</text><text x="1378" y="760">REDAELLI</text><text x="1378" y="769.5">REDAELLI</text><text x="1378" y="779">GUNNEBO</text><text x="1378" y="788.5">GUNNEBO</text><text x="1378" y="798">GUNNEBO</text>
</g>
<text x="1236" y="741" textLength="102" lengthAdjust="spacingAndGlyphs">ANEL DE CARGA SC1 - CAP. CARGA 300ton</text>
<text x="1236" y="750.5">SAPATILHA HEAVY DUTY THIMBLE K2</text>
<text x="1236" y="760" textLength="116" lengthAdjust="spacingAndGlyphs">LAÇO CABO DE AÇO ϕN73 x 20000 - GRADE 1960</text>
<text x="1236" y="769.5">CABO DE AÇO ϕN108 x 2370</text>
<text x="1236" y="779">SOQUETE TIPO ABERTO S02</text>
<text x="1236" y="788.5">MANILHA CAP. 250ton</text>
<text x="1236" y="798">MANILHA CAP. 200ton</text>
<text x="1236" y="808">SPREADER BAR 400ton</text>
<g text-anchor="end">
<text x="1426" y="741">154,0</text><text x="1426" y="760">520,0</text><text x="1426" y="769.5">184,0</text><text x="1426" y="779">447,0</text><text x="1426" y="788.5">285,0</text><text x="1426" y="798">210,0</text><text x="1426" y="808">4065,9</text>
<text x="1453" y="741">308,0</text><text x="1453" y="760">1040,0</text><text x="1453" y="769.5">368,0</text><text x="1453" y="779">894,0</text><text x="1453" y="788.5">570,0</text><text x="1453" y="798">420,0</text><text x="1453" y="808">4065,9</text>
</g>
<text x="1455" y="741">12912510</text><text x="1455" y="750.5">77.118.081</text><text x="1455" y="760" textLength="26" lengthAdjust="spacingAndGlyphs">FLDW08-2000-GRADE</text><text x="1455" y="769.5">FLC 108</text><text x="1455" y="779" textLength="26" lengthAdjust="spacingAndGlyphs">4796604410042</text><text x="1455" y="788.5">A857125</text><text x="1455" y="798">A857120</text><text x="1455" y="808" textLength="26" lengthAdjust="spacingAndGlyphs">TEC-TCI-SPB-002-00</text>
</g>
<g font-size="4.4" class="b" text-anchor="middle">
<text x="1199" y="820">ITEM</text><text x="1213" y="820" textLength="12" lengthAdjust="spacingAndGlyphs">QUANT</text><text x="1227" y="820">UNID.</text>
<text x="1295" y="820">DESCRIÇÃO</text><text x="1378" y="820">MATERIAL</text>
<text x="1413" y="816">UNIT.</text><text x="1440" y="816">TOTAL</text><text x="1427" y="824.5">PESO</text><text x="1467" y="820" textLength="26" lengthAdjust="spacingAndGlyphs">REFERÊNCIA</text>
</g>

<g stroke="#000" fill="none" stroke-width="0.9">
<line x1="1192" y1="830.8" x2="1482" y2="830.8" stroke-width="1.8"/>
<line x1="1192" y1="841" x2="1279.5" y2="841"/><line x1="1192" y1="850.8" x2="1279.5" y2="850.8"/><line x1="1192" y1="860.3" x2="1279.5" y2="860.3"/><line x1="1192" y1="870" x2="1279.5" y2="870"/><line x1="1192" y1="879.6" x2="1279.5" y2="879.6"/>
<line x1="1192" y1="888.6" x2="1279.5" y2="888.6" stroke-width="1.6"/>
<line x1="1224.8" y1="841" x2="1224.8" y2="860.3"/><line x1="1224.8" y1="870" x2="1224.8" y2="888.6"/>
<line x1="1255.2" y1="830.8" x2="1255.2" y2="870"/>
<line x1="1279.5" y1="830.8" x2="1279.5" y2="907" stroke-width="1.6"/>
<line x1="1279.5" y1="897.5" x2="1482" y2="897.5" stroke-width="1.6"/>
<line x1="1421" y1="897.5" x2="1421" y2="907"/><line x1="1458" y1="897.5" x2="1458" y2="907"/>
<line x1="909" y1="888.8" x2="1192" y2="888.8" stroke-width="1.6"/>
<line x1="909" y1="888.8" x2="909" y2="907" stroke-width="1.4"/><line x1="962" y1="888.8" x2="962" y2="907" stroke-width="1.2"/>
<line x1="1109" y1="850" x2="1109" y2="907" stroke-width="1.6"/><line x1="1109" y1="850" x2="1192" y2="850" stroke-width="1.6"/>
<rect x="1011" y="893" width="8" height="5"/><rect x="1011" y="902" width="8" height="4.5"/>
<rect x="1097" y="893" width="8" height="5"/><rect x="1097" y="902" width="8" height="4.5"/>
</g>
<g font-size="4.6" class="b">
<text x="1222" y="838" text-anchor="middle">APROVAÇÃO</text><text x="1267" y="838" text-anchor="middle">DATA</text>
<text x="1208.5" y="848" text-anchor="middle">DESENHADO</text><text x="1240" y="848" text-anchor="middle">CLEYSON</text><text x="1267" y="848" text-anchor="middle">04/08/14</text>
<text x="1208.5" y="858" text-anchor="middle">VERIFICADO</text><text x="1240" y="858" text-anchor="middle">CLEYSON</text><text x="1267" y="858" text-anchor="middle">04/08/14</text>
<text x="1210" y="867.5" text-anchor="middle">APROVADO</text>
<text x="1194" y="877">EMITENTE</text><text x="1252" y="877" text-anchor="middle">TECNOMEC</text>
<text x="1194" y="886.5">Nº EMITENTE</text>
<text x="1282" y="837">TITULO</text>
<text x="1282" y="903">MATERIAL:</text><text x="1423" y="903">ESCALA:</text><text x="1460" y="903">PESO (Kg):</text>
<text x="912" y="894" textLength="45" lengthAdjust="spacingAndGlyphs">CANCELA E SUBSTITUI</text><text x="912" y="899" textLength="45" lengthAdjust="spacingAndGlyphs">O DESENHO NUMERO:</text>
<text x="965" y="897">LIBERADO</text><text x="965" y="905.5">NÃO LIBERADO</text>
<text x="1035" y="897">LIBERADO C/ RESSALVAS</text><text x="1035" y="905.5">VETO</text>
<text x="1115" y="899" textLength="72" lengthAdjust="spacingAndGlyphs">ESTE DESENHO É DE PROPRIEDADE DA</text><text x="1115" y="905">FLEXIBRAS, E NÃO PODE SER</text>
</g>
<text x="1300" y="906" font-size="5">INDICADO</text>
<text x="1440" y="906" font-size="5">1:30</text>
<text x="1386" y="851" font-size="13" text-anchor="middle" font-family="DejaVu Sans,sans-serif" fill="#111">SPREADER BAR 400t</text>
<text x="1386" y="866" font-size="13" text-anchor="middle" font-family="DejaVu Sans,sans-serif" fill="#111">CONJUNTO</text>
<defs><linearGradient id="lg" x1="0" x2="1"><stop offset="0" stop-color="#14148a"/><stop offset="1" stop-color="#5050f0"/></linearGradient></defs>
<rect x="1117" y="856" width="65" height="20" fill="url(#lg)" stroke="#000" stroke-width="0.5"/>
<rect x="1117" y="876" width="65" height="4" fill="#d9a000"/>
<circle cx="1153" cy="866" r="6" fill="none" stroke="#e00" stroke-width="2.2"/>
<text x="1119" y="870" font-size="11" font-family="Liberation Sans,sans-serif" style="fill:#e00">TECN</text>
<text x="1160" y="870" font-size="11" font-family="Liberation Sans,sans-serif" style="fill:#e00">MEC</text>
<text x="1149" y="886" font-size="3.5" text-anchor="middle" style="fill:#333">www.tecnomec.com.br</text>
<path d="M1205,907 L1207,898 L1220,898 L1219,902 L1211,902 L1210,907 Z" fill="#1060c0"/>
<path d="M1224,907 L1228,898 L1232,898 L1228,907 Z M1240,907 L1244,898 L1248,898 L1244,907 Z" fill="#1060c0"/>
</svg>
</body></html>
